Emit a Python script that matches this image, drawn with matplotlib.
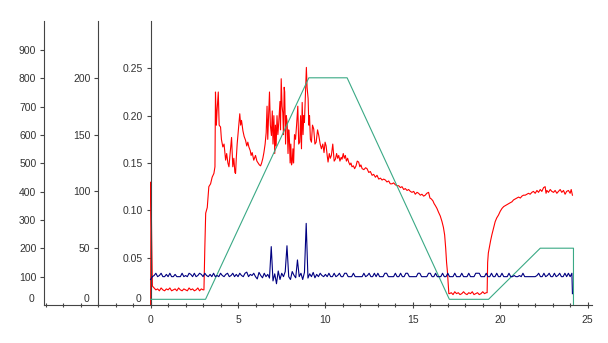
import numpy as np
import matplotlib
matplotlib.use("Agg")
import matplotlib.pyplot as plt

# ---- data ----
# red trace, inner axis (0 - 0.25)
red_x = [0, 0.02, 0.06, 0.1,
         0.2, 0.3, 0.4, 0.5, 0.6, 0.7, 0.8, 0.9, 1.0, 1.1, 1.2, 1.3, 1.4, 1.5, 1.6,
         1.7, 1.8, 1.9, 2.0, 2.1, 2.2, 2.3, 2.4, 2.5, 2.6, 2.7, 2.8, 2.9, 3.0,
         3.05, 3.1, 3.15, 3.24, 3.33, 3.43, 3.52, 3.62, 3.68, 3.71, 3.76, 3.8, 3.87, 3.92,
         4.0, 4.05, 4.13, 4.2, 4.29, 4.35, 4.42, 4.48, 4.55, 4.63, 4.7, 4.76, 4.82, 4.86,
         4.9, 4.95, 5.02, 5.1, 5.15, 5.2, 5.28, 5.35, 5.43, 5.5, 5.56, 5.62, 5.7, 5.75,
         5.81, 5.9, 6.0, 6.08, 6.15, 6.22, 6.29, 6.35, 6.42, 6.48, 6.55, 6.61, 6.66, 6.7,
         6.75, 6.8, 6.85, 6.91, 6.96, 7.0, 7.05, 7.1, 7.14, 7.18, 7.23, 7.28, 7.33, 7.4,
         7.43, 7.47, 7.52, 7.56, 7.6, 7.64, 7.67, 7.72, 7.76, 7.81, 7.86, 7.9, 7.94, 7.98,
         8.02, 8.06, 8.1, 8.14, 8.18, 8.23, 8.29, 8.35, 8.42, 8.47, 8.53, 8.58, 8.63, 8.67,
         8.72, 8.76, 8.8, 8.85, 8.91, 8.95, 9.01, 9.05, 9.09, 9.14, 9.2, 9.26, 9.33, 9.4,
         9.47, 9.55, 9.62, 9.7, 9.77, 9.85, 9.92, 9.98, 10.04, 10.1, 10.15, 10.22, 10.28,
         10.34, 10.42, 10.5, 10.57, 10.64, 10.7, 10.76, 10.83, 10.9, 10.95, 11.02, 11.08,
         11.14, 11.2, 11.27, 11.33, 11.4, 11.46, 11.52, 11.6, 11.67, 11.75, 11.82, 11.9,
         11.97, 12.03, 12.1, 12.2, 12.3, 12.38, 12.48, 12.57, 12.67, 12.76, 12.86, 12.95,
         13.05, 13.15, 13.24, 13.33, 13.43, 13.52, 13.62, 13.71, 13.81, 13.9, 14.0, 14.1,
         14.19, 14.29, 14.38, 14.48, 14.57, 14.67, 14.76, 14.86, 14.95, 15.05, 15.14,
         15.24, 15.33, 15.43, 15.52, 15.62, 15.71, 15.8, 15.9, 15.98, 16.06, 16.15, 16.22,
         16.29, 16.38, 16.47, 16.57, 16.67, 16.75, 16.82, 16.88, 16.93, 16.98, 17.03, 17.06,
         17.1, 17.2, 17.3, 17.4, 17.5, 17.6, 17.7, 17.8, 17.9, 18.0, 18.1, 18.2, 18.3,
         18.4, 18.5, 18.6, 18.7, 18.8, 18.9, 19.0, 19.1, 19.2,
         19.25, 19.28, 19.32, 19.37, 19.45, 19.52, 19.6, 19.71, 19.8, 19.9, 20.0, 20.1,
         20.2, 20.29, 20.38, 20.48, 20.57, 20.67, 20.76, 20.86, 20.95, 21.05, 21.15, 21.24,
         21.33, 21.43, 21.52, 21.62, 21.71, 21.81, 21.9, 22.0, 22.1, 22.19, 22.29, 22.38,
         22.48, 22.57, 22.62, 22.67, 22.76, 22.86, 22.95, 23.05, 23.14, 23.24, 23.33,
         23.43, 23.52, 23.62, 23.71, 23.8, 23.9, 24.0, 24.06, 24.13]
red_y = [0.0, 0.13, 0.07, 0.02,
         0.018, 0.016, 0.017, 0.015, 0.018, 0.016, 0.015, 0.017, 0.016, 0.018, 0.015,
         0.016, 0.017, 0.015, 0.018, 0.016, 0.015, 0.017, 0.016, 0.015, 0.018, 0.016,
         0.017, 0.015, 0.016, 0.018, 0.015, 0.017, 0.016,
         0.016, 0.06, 0.097, 0.103, 0.125, 0.128, 0.135, 0.139, 0.146, 0.225, 0.19, 0.205,
         0.225, 0.19, 0.188, 0.175, 0.167, 0.17, 0.153, 0.16, 0.15, 0.146, 0.16, 0.177,
         0.146, 0.155, 0.14, 0.139, 0.155, 0.17, 0.185, 0.202, 0.19, 0.195, 0.184, 0.178,
         0.174, 0.168, 0.172, 0.167, 0.163, 0.158, 0.161, 0.153, 0.158, 0.152, 0.15, 0.148,
         0.147, 0.15, 0.155, 0.161, 0.17, 0.182, 0.21, 0.175, 0.2, 0.225, 0.19, 0.179,
         0.205, 0.17, 0.2, 0.16, 0.19, 0.168, 0.2, 0.18, 0.193, 0.215, 0.185, 0.239, 0.21,
         0.203, 0.18, 0.23, 0.225, 0.17, 0.2, 0.193, 0.16, 0.185, 0.175, 0.15, 0.17, 0.148,
         0.151, 0.165, 0.15, 0.18, 0.175, 0.19, 0.21, 0.17, 0.172, 0.2, 0.165, 0.214, 0.18,
         0.2, 0.193, 0.22, 0.251, 0.23, 0.218, 0.19, 0.2, 0.175, 0.172, 0.19, 0.186, 0.17,
         0.172, 0.185, 0.179, 0.17, 0.165, 0.17, 0.161, 0.172, 0.168, 0.158, 0.151, 0.16,
         0.155, 0.158, 0.17, 0.152, 0.154, 0.16, 0.155, 0.158, 0.152, 0.156, 0.154, 0.16,
         0.155, 0.158, 0.152, 0.155, 0.151, 0.148, 0.15, 0.146, 0.147, 0.144, 0.147, 0.152,
         0.151, 0.146, 0.148, 0.144, 0.143, 0.145, 0.144, 0.14, 0.141, 0.137, 0.138, 0.135,
         0.137, 0.133, 0.134, 0.132, 0.133, 0.132, 0.13, 0.131, 0.128, 0.128, 0.129, 0.127,
         0.126, 0.126, 0.124, 0.125, 0.122, 0.123, 0.121, 0.122, 0.12, 0.119, 0.12, 0.117,
         0.119, 0.118, 0.116, 0.117, 0.115, 0.116, 0.118, 0.119, 0.113, 0.112, 0.11, 0.107,
         0.105, 0.102, 0.098, 0.094, 0.088, 0.082, 0.074, 0.06, 0.045, 0.035, 0.02, 0.012,
         0.012, 0.013, 0.011, 0.014, 0.012, 0.013, 0.011, 0.012, 0.014, 0.012, 0.011, 0.013,
         0.012, 0.014, 0.011, 0.012, 0.013, 0.011, 0.012, 0.014, 0.012, 0.013,
         0.013, 0.045, 0.055, 0.06, 0.068, 0.074, 0.08, 0.088, 0.092, 0.095, 0.099, 0.102,
         0.104, 0.105, 0.106, 0.107, 0.108, 0.109, 0.111, 0.112, 0.113, 0.114, 0.113, 0.115,
         0.116, 0.116, 0.117, 0.118, 0.117, 0.119, 0.12, 0.118, 0.121, 0.119, 0.122, 0.12,
         0.124, 0.125, 0.118, 0.121, 0.119, 0.122, 0.12, 0.119, 0.121, 0.118, 0.12, 0.122,
         0.119, 0.121, 0.117, 0.12, 0.121, 0.118, 0.122, 0.116]

# green trace, middle axis (0 - 200)
green_x = [0, 3.14, 9.05, 11.24, 17.09, 19.33, 22.29, 24.19, 24.19]
green_y = [5, 5, 200, 200, 5, 5, 50, 50, 0]

# blue trace, outer axis (0 - 900), sampled every 0.1
blue_x = np.round(np.arange(242) * 0.1, 1).tolist() + [24.13]
blue_y = [90, 100, 104, 112, 100, 104, 112, 100, 100, 108,
          100, 112, 100, 100, 108, 100, 100, 100, 112, 100,
          104, 100, 112, 108, 100, 112, 100, 104, 112, 108,
          100, 112, 104, 100, 108, 100, 112, 100, 104, 100,
          112, 104, 100, 108, 112, 100, 104, 112, 100, 108,
          100, 112, 104, 100, 112, 116, 100, 108, 104, 112,
          100, 92, 115, 104, 96, 112, 100, 108, 95, 206,
          85, 110, 75, 120, 90, 112, 100, 118, 209, 100,
          90, 118, 105, 96, 159, 100, 112, 90, 115, 288,
          95, 110, 100, 115, 96, 108, 100, 112, 104, 100,
          108, 100, 112, 100, 100, 112, 100, 104, 112, 100,
          100, 112, 112, 100, 100, 100, 112, 100, 100, 100,
          100, 100, 112, 100, 104, 112, 100, 100, 112, 100,
          112, 100, 100, 100, 112, 112, 100, 100, 100, 100,
          112, 100, 100, 112, 100, 100, 112, 112, 100, 100,
          100, 100, 100, 112, 112, 100, 100, 100, 100, 112,
          112, 100, 100, 112, 100, 100, 100, 112, 100, 100,
          112, 100, 100, 100, 112, 100, 100, 100, 112, 100,
          100, 100, 112, 100, 100, 100, 112, 112, 112, 100,
          100, 100, 112, 100, 100, 112, 100, 100, 112, 100,
          100, 112, 100, 100, 100, 112, 100, 100, 104, 100,
          100, 104, 100, 112, 100, 100, 100, 100, 100, 100,
          100, 104, 112, 100, 100, 112, 100, 104, 112, 100,
          100, 112, 100, 104, 112, 100, 100, 112, 100, 112,
          100, 112, 40]

x_ticks = [0, 5, 10, 15, 20, 25]
inner_ticks = [0.05, 0.10, 0.15, 0.20, 0.25]
middle_ticks = [50, 100, 150, 200]
outer_ticks = [100, 200, 300, 400, 500, 600, 700, 800, 900]

# ---- figure ----
plt.rcParams['font.family'] = ['Liberation Sans', 'DejaVu Sans']
plt.rcParams['font.size'] = 7.5
axis_col = '#444444'
text_col = '#333333'

fig = plt.figure(figsize=(6.08, 3.43), dpi=100)
rect = [44 / 608, 38 / 343, 548 / 608, 284 / 343]

ax = fig.add_axes(rect)
ax_mid = fig.add_axes(rect, sharex=ax)
ax_out = fig.add_axes(rect, sharex=ax)

ax.set_xlim(-6.1, 25.25)
ax.set_ylim(0, 0.30)
ax_mid.set_ylim(0, 250)
ax_out.set_ylim(0, 1002)

ax.plot(red_x, red_y, color='#ff0000', lw=0.8)
ax_mid.plot(green_x, green_y, color='#3aa985', lw=0.8)
ax_out.plot(blue_x, blue_y, color='#000080', lw=0.8)

# x axis lives on the main axes
for s in ['top', 'right']:
    ax.spines[s].set_visible(False)
ax.spines['bottom'].set_color(axis_col)
ax.spines['left'].set_color(axis_col)
ax.spines['left'].set_position(('data', 0))
ax.set_xticks(range(-6, 26), minor=True)
ax.set_xticks(x_ticks)
ax.set_xticklabels([str(t) for t in x_ticks])
ax.tick_params(axis='x', which='both', direction='inout', length=5, width=0.8,
               color=axis_col, labelcolor=text_col, pad=5)
ax.tick_params(axis='x', which='minor', length=3)
ax.set_yticks(inner_ticks)
ax.set_yticklabels(['%.2f' % t for t in inner_ticks])

for a, spos in [(ax_mid, ('data', -3)), (ax_out, ('axes', 0))]:
    a.patch.set_visible(False)
    for s in ['top', 'right', 'bottom']:
        a.spines[s].set_visible(False)
    a.spines['left'].set_position(spos)
    a.spines['left'].set_color(axis_col)
    a.xaxis.set_visible(False)

ax_mid.set_yticks(middle_ticks)
ax_mid.set_yticklabels([str(t) for t in middle_ticks])
ax_out.set_yticks(outer_ticks)
ax_out.set_yticklabels([str(t) for t in outer_ticks])

for a in [ax, ax_mid, ax_out]:
    a.tick_params(axis='y', direction='out', length=3, width=0.8,
                  color=axis_col, labelcolor=text_col, pad=2.5)

# the zero labels sit a bit above the x axis
ax.annotate('0', xy=(0, 0), xycoords='data', xytext=(-7, 4.5),
            textcoords='offset points', ha='right', va='center', color=text_col)
ax_mid.annotate('0', xy=(-3, 0), xycoords='data', xytext=(-6, 4.5),
                textcoords='offset points', ha='right', va='center', color=text_col)
ax_out.annotate('0', xy=(0, 0), xycoords=('axes fraction', 'data'), xytext=(-7, 4.5),
                textcoords='offset points', ha='right', va='center', color=text_col,
                annotation_clip=False)

fig.savefig('out.png', dpi=100)
